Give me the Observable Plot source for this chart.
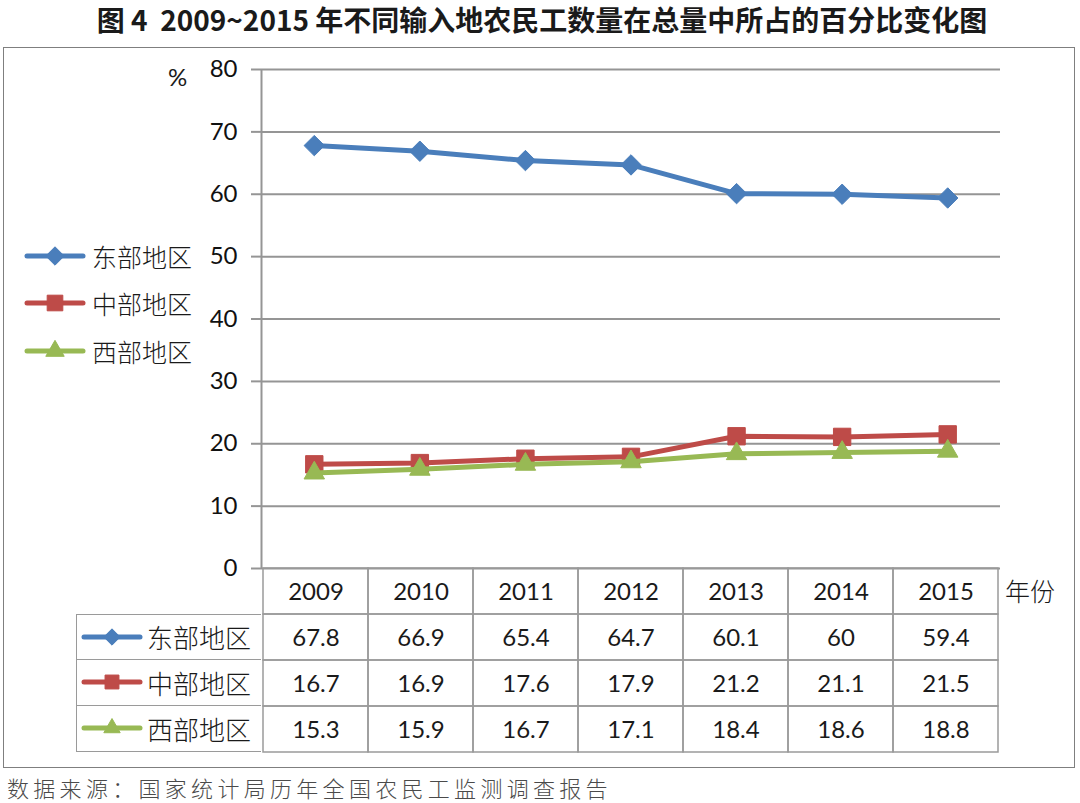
<!DOCTYPE html>
<html><head><meta charset="utf-8">
<script src="https://cdn.jsdelivr.net/npm/d3@7"></script>
<script src="https://cdn.jsdelivr.net/npm/@observablehq/plot@0.6"></script>
<style>
body{margin:0;background:#fff;}
#root{position:relative;width:1080px;height:803px;overflow:hidden;font-family:"Noto Sans CJK SC",sans-serif;color:#1a1a1a;}
.abs{position:absolute;}
#title{left:60px;top:4px;width:964px;text-align:center;font-size:28px;font-weight:bold;line-height:30px;color:#1a1a1a;white-space:nowrap;}
#box{left:3px;top:47px;width:1070px;height:719px;border:1.6px solid #7f7f7f;}
#pct{left:168px;top:62px;font-family:Lato,sans-serif;font-size:24px;}
#unit{left:1005px;top:572px;font-size:25px;font-weight:300;}
#caption{left:7px;top:771px;font-size:22px;letter-spacing:4.3px;color:#4a4a4a;font-weight:300;white-space:nowrap;}
.leg{display:flex;align-items:center;font-size:25px;height:30px;font-weight:300;}
.leg svg{margin-right:6px;}
#labels{left:76px;top:613.5px;width:185px;}
.lrow{box-sizing:border-box;height:46px;border:1.5px solid #9a9a9a;border-top:none;border-right:none;display:flex;align-items:center;padding-left:4px;font-size:26px;font-weight:300;}
.lrow:first-child{border-top:1.5px solid #9a9a9a;}
.lrow svg{margin-right:4px;}
</style>
</head><body>
<div id="root">
  <div id="title" class="abs">图 4&nbsp;&nbsp;2009~2015 年不同输入地农民工数量在总量中所占的百分比变化图</div>
  <div id="box" class="abs"></div>
  <div id="pct" class="abs">%</div>
  <div id="chart" class="abs" style="left:0;top:0"></div>
  <div id="table" class="abs" style="left:0;top:567px"></div>
  <div id="labels" class="abs"></div>
  <div id="legend" class="abs" style="left:24px;top:241px"></div>
  <div id="unit" class="abs">年份</div>
  <div id="caption" class="abs">数据来源：国家统计局历年全国农民工监测调查报告</div>
</div>
<script>
const years = [2009, 2010, 2011, 2012, 2013, 2014, 2015];
const seriesNames = ["东部地区", "中部地区", "西部地区"];
const east = [67.8, 66.9, 65.4, 64.7, 60.1, 60, 59.4];
const central = [16.7, 16.9, 17.6, 17.9, 21.2, 21.1, 21.5];
const west = [15.3, 15.9, 16.7, 17.1, 18.4, 18.6, 18.8];
const yTicks = [0, 10, 20, 30, 40, 50, 60, 70, 80];
const colors = ["#4a7ebb", "#be4b48", "#98b954"];
const symbols = ["diamond2", "square", "triangle"];
const markerR = [9.2, 9.8, 7.6];

const seriesValues = [east, central, west];
const rows = [];
seriesNames.forEach((s, i) => years.forEach((y, j) => rows.push({series: s, year: y, value: seriesValues[i][j]})));

const marks = [
  Plot.ruleY(yTicks, {stroke: "#959595", strokeWidth: 2}),
  Plot.axisY(yTicks, {tickSize: 10, tickPadding: 14, stroke: "#959595", strokeWidth: 2, fill: "#111", fontSize: 24, fontFamily: "Lato", label: null}),
  Plot.ruleX([2008.5], {stroke: "#959595", strokeWidth: 2})
];
seriesNames.forEach((s, i) => {
  const d = rows.filter(r => r.series === s);
  marks.push(Plot.line(d, {x: "year", y: "value", stroke: colors[i], strokeWidth: 5, strokeLinejoin: "round", strokeLinecap: "round"}));
  marks.push(Plot.dot(d, {x: "year", y: "value", symbol: () => symbols[i], r: markerR[i], fill: colors[i], stroke: colors[i], strokeWidth: 1}));
});

const chart = Plot.plot({
  width: 1080, height: 572,
  marginTop: 69, marginBottom: 4, marginLeft: 261, marginRight: 80,
  x: {type: "linear", domain: [2008.5, 2015.5], axis: null},
  y: {domain: [0, 80], axis: null},
  symbol: {type: "identity"},
  style: {background: "transparent", overflow: "visible"},
  marks
});
document.getElementById("chart").appendChild(chart);

// data table
const rowKeys = ["年份", ...seriesNames];
const cells = [];
years.forEach(y => cells.push({row: "年份", year: y, label: String(y)}));
seriesNames.forEach((s, i) => years.forEach((y, j) => cells.push({row: s, year: y, label: String(seriesValues[i][j])})));

const table = Plot.plot({
  width: 1080, height: 186,
  marginTop: 1, marginBottom: 1, marginLeft: 261, marginRight: 80,
  x: {type: "band", domain: years, padding: 0, axis: null},
  y: {type: "band", domain: rowKeys, padding: 0, axis: null},
  style: {background: "transparent", overflow: "visible"},
  marks: [
    Plot.cell(cells, {x: "year", y: "row", fill: "none", stroke: "#9a9a9a", strokeWidth: 1.5, inset: 0}),
    Plot.text(cells, {x: "year", y: "row", text: "label", fontSize: 24, fontFamily: "Lato", fill: "#1a1a1a", dy: 1})
  ]
});
document.getElementById("table").appendChild(table);

function swatch(i, scale) {
  const w = 62, h = 26;
  const svg = d3.create("svg").attr("width", w).attr("height", h);
  svg.append("line").attr("x1", 3).attr("x2", w - 3).attr("y1", h / 2).attr("y2", h / 2)
    .attr("stroke", colors[i]).attr("stroke-width", 5).attr("stroke-linecap", "round");
  const symMap = {diamond2: d3.symbolDiamond2, square: d3.symbolSquare, triangle: d3.symbolTriangle};
  const r = markerR[i] * scale;
  svg.append("path").attr("transform", `translate(${w / 2},${h / 2})`)
    .attr("d", d3.symbol(symMap[symbols[i]], Math.PI * r * r)())
    .attr("fill", colors[i]).attr("stroke", colors[i]);
  return svg.node();
}

const legend = document.getElementById("legend");
seriesNames.forEach((s, i) => {
  const div = document.createElement("div");
  div.className = "leg";
  div.style.marginBottom = ["17px", "18px", "0"][i];
  div.appendChild(swatch(i, 0.9));
  div.appendChild(document.createTextNode(s));
  legend.appendChild(div);
});

const labels = document.getElementById("labels");
seriesNames.forEach((s, i) => {
  const div = document.createElement("div");
  div.className = "lrow";
  div.appendChild(swatch(i, 0.8));
  div.appendChild(document.createTextNode(s));
  labels.appendChild(div);
});
</script>
</body></html>
